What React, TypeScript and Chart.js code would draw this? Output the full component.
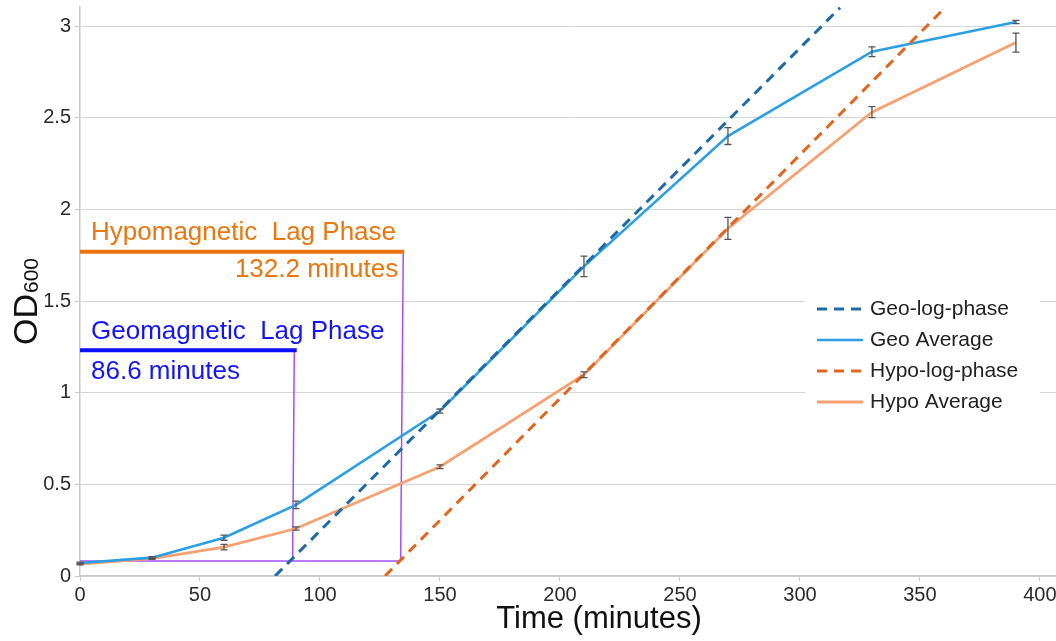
import React, { useEffect, useRef } from "react";
import { Chart, registerables } from "chart.js";

Chart.register(...registerables);

// ---- data ----
const timeMinutes = [0, 30, 60, 90, 150, 210, 270, 330, 390];
const geoAverage = [0.071, 0.1, 0.209, 0.388, 0.9, 1.689, 2.4, 2.86, 3.022];
const geoError = [0.005, 0.005, 0.014, 0.02, 0.011, 0.056, 0.046, 0.027, 0.009];
const hypoAverage = [0.065, 0.095, 0.158, 0.259, 0.596, 1.098, 1.896, 2.53, 2.91];
const hypoError = [0.004, 0.004, 0.015, 0.009, 0.01, 0.016, 0.06, 0.03, 0.052];

const geoLogX = [81.3, 316.7];
const geoLogY = [0, 3.1];
const hypoLogX = [127.1, 360.4];
const hypoLogY = [0, 3.1];

const lagBaselineX = [0, 133.4];
const lagBaselineY = [0.082, 0.082];
const geoLagDropX = [88.6, 89.3];
const geoLagDropY = [0.082, 1.232];
const hypoLagDropX = [133.6, 134.7];
const hypoLagDropY = [0.082, 1.769];
const geoLagBarX = [0, 90.3];
const geoLagBarY = [1.232, 1.232];
const hypoLagBarX = [0, 135.1];
const hypoLagBarY = [1.769, 1.769];

const xTicks = [0, 50, 100, 150, 200, 250, 300, 350, 400];
const yTicks = [0, 0.5, 1, 1.5, 2, 2.5, 3];
const yTickLabels = ["0", "0.5", "1", "1.5", "2", "2.5", "3"];

const legendOrder = ["Geo-log-phase", "Geo Average", "Hypo-log-phase", "Hypo Average"];

const hypoLagTitle = "Hypomagnetic  Lag Phase";
const hypoLagValue = "132.2 minutes";
const geoLagTitle = "Geomagnetic  Lag Phase";
const geoLagValue = "86.6 minutes";

// colours
const GEO_LOG = "#1f6aa5";
const GEO_AVG = "#2b9fe2";
const HYPO_LOG = "#e0651f";
const HYPO_AVG = "#f5a172";
const PURPLE = "#a64dff";
const ORANGE_TXT = "#e8770f";
const BLUE_TXT = "#1414f5";
const FONT = "'Liberation Sans', Arial, sans-serif";

const pts = (xs: number[], ys: number[]) => xs.map((x, i) => ({ x, y: ys[i] }));

const errorBarPlugin = {
  id: "errorBars",
  afterDatasetsDraw(chart: any) {
    const { ctx, scales } = chart;
    const xs = scales.x;
    const ys = scales.y;
    ctx.save();
    ctx.strokeStyle = "#555";
    ctx.lineWidth = 1.3;
    const drawSet = (vals: number[], errs: number[]) => {
      vals.forEach((v, i) => {
        const px = xs.getPixelForValue(timeMinutes[i]);
        const top = ys.getPixelForValue(v + errs[i]);
        const bot = ys.getPixelForValue(v - errs[i]);
        ctx.beginPath();
        ctx.moveTo(px, top);
        ctx.lineTo(px, bot);
        ctx.moveTo(px - 3.5, top);
        ctx.lineTo(px + 3.5, top);
        ctx.moveTo(px - 3.5, bot);
        ctx.lineTo(px + 3.5, bot);
        ctx.stroke();
      });
    };
    drawSet(geoAverage, geoError);
    drawSet(hypoAverage, hypoError);
    ctx.restore();
  },
};

const annotationPlugin = {
  id: "annotations",
  afterDraw(chart: any) {
    const { ctx, scales } = chart;
    const xs = scales.x;
    const ys = scales.y;
    ctx.save();
    ctx.textBaseline = "middle";
    ctx.font = `26px ${FONT}`;
    ctx.fillStyle = ORANGE_TXT;
    ctx.textAlign = "left";
    ctx.fillText(hypoLagTitle, xs.getPixelForValue(4.6), ys.getPixelForValue(1.872));
    ctx.textAlign = "right";
    ctx.fillText(hypoLagValue, xs.getPixelForValue(132.6), ys.getPixelForValue(1.672));
    ctx.fillStyle = BLUE_TXT;
    ctx.textAlign = "left";
    ctx.fillText(geoLagTitle, xs.getPixelForValue(4.6), ys.getPixelForValue(1.333));
    ctx.fillText(geoLagValue, xs.getPixelForValue(4.6), ys.getPixelForValue(1.115));

    // legend
    const entries = legendOrder
      .map((l) => chart.data.datasets.find((d: any) => d.label === l))
      .filter(Boolean);
    ctx.fillStyle = "#fff";
    ctx.fillRect(805, 290, 235, 130);
    entries.forEach((d: any, i: number) => {
      const y = 309 + i * 31;
      ctx.beginPath();
      ctx.strokeStyle = d.borderColor;
      ctx.lineWidth = d.borderWidth;
      ctx.setLineDash(d.borderDash || []);
      ctx.moveTo(817, y);
      ctx.lineTo(863, y);
      ctx.stroke();
      ctx.setLineDash([]);
      ctx.fillStyle = "#222";
      ctx.font = `21px ${FONT}`;
      ctx.textAlign = "left";
      ctx.fillText(d.label, 870, y);
    });

    // axis titles
    ctx.fillStyle = "#111";
    ctx.font = `31px ${FONT}`;
    ctx.textAlign = "center";
    ctx.textBaseline = "alphabetic";
    ctx.fillText("Time (minutes)", 599, 628);

    ctx.translate(37, 345);
    ctx.rotate(-Math.PI / 2);
    ctx.textAlign = "left";
    ctx.font = `34px ${FONT}`;
    ctx.fillText("OD", 0, 0);
    const w = ctx.measureText("OD").width;
    ctx.font = `21px ${FONT}`;
    ctx.fillText("600", w + 1, 1);
    ctx.restore();
  },
};

export default function App() {
  const ref = useRef<HTMLCanvasElement>(null);
  useEffect(() => {
    document.body.style.margin = "0";
    const chart = new Chart(ref.current!, {
      type: "line",
      data: {
        datasets: [
          {
            label: "Geo-log-phase",
            data: pts(geoLogX, geoLogY),
            borderColor: GEO_LOG,
            borderWidth: 3,
            borderDash: [10, 7],
            pointRadius: 0,
          },
          {
            label: "Hypo-log-phase",
            data: pts(hypoLogX, hypoLogY),
            borderColor: HYPO_LOG,
            borderWidth: 3,
            borderDash: [10, 7],
            pointRadius: 0,
          },
          {
            label: "Geo Average",
            data: pts(timeMinutes, geoAverage),
            borderColor: GEO_AVG,
            borderWidth: 2.6,
            pointRadius: 0,
            tension: 0,
          },
          {
            label: "Hypo Average",
            data: pts(timeMinutes, hypoAverage),
            borderColor: HYPO_AVG,
            borderWidth: 2.8,
            pointRadius: 0,
            tension: 0,
          },
          {
            label: "geoBar",
            data: pts(geoLagBarX, geoLagBarY),
            borderColor: "#0d0dff",
            borderWidth: 4,
            pointRadius: 0,
          },
          {
            label: "hypoBar",
            data: pts(hypoLagBarX, hypoLagBarY),
            borderColor: "#ec7410",
            borderWidth: 4,
            pointRadius: 0,
          },
          {
            label: "baseline",
            data: pts(lagBaselineX, lagBaselineY),
            borderColor: PURPLE,
            borderWidth: 1.5,
            pointRadius: 0,
          },
          {
            label: "geoDrop",
            data: pts(geoLagDropX, geoLagDropY),
            borderColor: PURPLE,
            borderWidth: 1.5,
            pointRadius: 0,
          },
          {
            label: "hypoDrop",
            data: pts(hypoLagDropX, hypoLagDropY),
            borderColor: PURPLE,
            borderWidth: 1.5,
            pointRadius: 0,
          },
        ],
      },
      options: {
        animation: false,
        responsive: true,
        maintainAspectRatio: false,
        layout: { padding: { top: 7, left: 0, right: 0, bottom: 0 } },
        plugins: { legend: { display: false }, tooltip: { enabled: false } },
        scales: {
          x: {
            type: "linear",
            min: 0,
            max: 406.7,
            afterBuildTicks: (s: any) => {
              s.ticks = xTicks.map((v) => ({ value: v }));
            },
            afterFit: (s: any) => {
              s.height = 65;
              s.paddingLeft = 0;
              s.paddingRight = 0;
            },
            grid: { drawOnChartArea: false, tickLength: 5, color: "#c8c8c8" },
            border: { color: "#c8c8c8", width: 1.5 },
            ticks: {
              font: { family: FONT, size: 20 },
              color: "#2a2a2a",
              padding: 2,
              maxRotation: 0,
            },
          },
          y: {
            type: "linear",
            min: 0,
            max: 3.104,
            afterBuildTicks: (s: any) => {
              s.ticks = yTicks.map((v) => ({ value: v }));
            },
            afterFit: (s: any) => {
              s.width = 80;
              s.paddingTop = 0;
              s.paddingBottom = 0;
            },
            grid: { color: "#d6d6d6", tickLength: 5, tickColor: "#c8c8c8" },
            border: { color: "#c8c8c8", width: 1.5 },
            ticks: {
              font: { family: FONT, size: 20 },
              color: "#2a2a2a",
              padding: 4,
              callback: (v: any) => {
                const i = yTicks.indexOf(Number(v));
                return i >= 0 ? yTickLabels[i] : "";
              },
            },
          },
        },
      },
      plugins: [errorBarPlugin, annotationPlugin],
    });
    return () => chart.destroy();
  }, []);
  return (
    <div style={{ width: 1056, height: 641, position: "relative" }}>
      <canvas ref={ref} />
    </div>
  );
}
